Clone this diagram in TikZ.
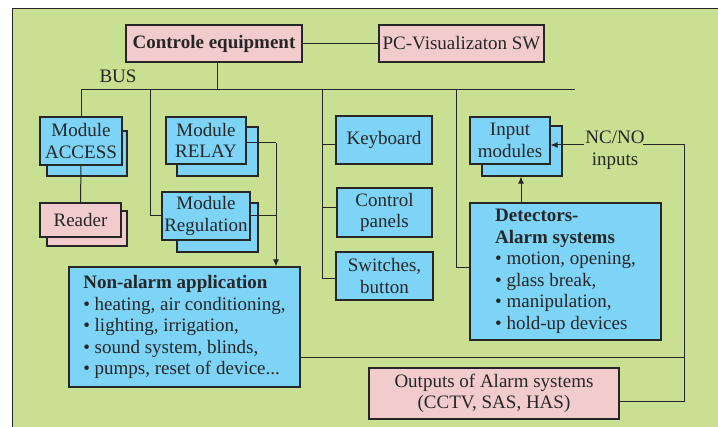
\documentclass[tikz,border=0pt]{standalone}
\usepackage{fontspec}
\setmainfont{Liberation Serif}
\usetikzlibrary{arrows.meta}
\definecolor{bggreen}{RGB}{201,223,145}
\definecolor{boxblue}{RGB}{125,212,247}
\definecolor{boxpink}{RGB}{242,204,205}
\definecolor{ink}{RGB}{38,38,38}
\tikzset{
  base/.style={draw=ink, line width=1.1pt, inner sep=0pt, align=center,
    font=\fontsize{19}{21.5}\selectfont, text=ink},
  bluebox/.style={base, fill=boxblue},
  pinkbox/.style={base, fill=boxpink},
  sz/.style 2 args={minimum width=#1pt, minimum height=#2pt},
  plaintext/.style={inner sep=1pt, align=center, font=\fontsize{19}{21.5}\selectfont, text=ink},
  wire/.style={draw=ink, line width=1pt},
  arrowwire/.style={wire, -{Latex[length=7pt,width=6pt]}},
}
\begin{document}
\begin{tikzpicture}[x=1pt,y=-1pt]
\useasboundingbox (0,0) rectangle (718,427);
\fill[white] (0,0) rectangle (718,427);
\fill[bggreen] (12,9) rectangle (718,427);
\draw[ink, line width=1pt] (718,9) -- (12,9) -- (12,427);

% back cards of the stacked modules
\node[bluebox, sz={80}{45}] (accBack) at (87,153.5) {};
\node[pinkbox, sz={80}{35}] (readerBack) at (87,228.5) {};
\node[bluebox, sz={81}{49}] (relayBack) at (217.5,151.5) {};
\node[bluebox, sz={81}{49}] (regBack) at (217.5,227.5) {};
\node[bluebox, sz={80}{50}] (inpBack) at (522,151) {};

% head units
\node[pinkbox, sz={176}{37}] (ctrl) at (214,43.5) {\bfseries Controle equipment};
\node[pinkbox, sz={165}{37}] (pc) at (461.5,43.5) {PC-Visualizaton SW};
\node[plaintext] (bus) at (118,76) {BUS};

% modules on the bus
\node[bluebox, sz={82}{48}] (acc) at (81,141) {Module\\ACCESS};
\node[pinkbox, sz={81}{34}] (reader) at (80.5,220) {Reader};
\node[bluebox, sz={80}{47}] (relay) at (206,140.5) {Module\\RELAY};
\node[bluebox, sz={88}{48}] (reg) at (206,216) {Module\\Regulation};
\node[bluebox, sz={96}{48}] (kb) at (384,140) {Keyboard};
\node[bluebox, sz={95}{49}] (cp) at (384.5,212.5) {Control\\panels};
\node[bluebox, sz={97}{48}] (sw) at (384.5,276) {Switches,\\button};
\node[bluebox, sz={80}{47}] (inp) at (510,140.5) {Input\\modules};

\node[bluebox, sz={231}{120}, align=left] (nonalarm) at (184.5,327)
  {\bfseries Non-alarm application\\
   • heating, air conditioning,\\
   • lighting, irrigation,\\
   • sound system, blinds,\\
   • pumps, reset of device...};
\node[bluebox, sz={191}{137}, align=left] (det) at (565.5,271.5)
  {\bfseries Detectors-\\
   \bfseries Alarm systems\\
   • motion, opening,\\
   • glass break,\\
   • manipulation,\\
   • hold-up devices};
\node[pinkbox, sz={250}{51}] (out) at (494,393.5) {Outputs of Alarm systems\\(CCTV, SAS, HAS)};
\node[plaintext] (nc) at (615,150) {NC/NO\\inputs};

% bus and taps
\coordinate (busL) at (81,90);
\coordinate (busR) at (575,90);
\coordinate (busTap) at (217,90);
\coordinate (tapB) at (150,90);
\coordinate (tapC) at (322,90);
\coordinate (tapD) at (456,90);
\coordinate (relTurn) at (276,143);
\coordinate (upX) at (521,0);
\coordinate (rail) at (684,0);

\draw[wire] (ctrl) -- (pc);
\draw[wire] (busTap |- ctrl.south) -- (busTap);
\draw[wire] (busL) -- (busR);
\draw[wire] (busL) -- (acc.north);
\draw[wire] (acc.south) -- (reader.north);
\draw[wire] (tapB) |- (reg.west);

\draw[wire] ([yshift=-2.5pt]relay.east) -- (relTurn);
\draw[wire] (reg.east) -- (reg.east -| relTurn);
\draw[arrowwire] (relTurn) -- (relTurn |- nonalarm.north);

\coordinate (kbIn) at ([yshift=-5pt]kb.west);
\coordinate (cpIn) at ([yshift=4.5pt]cp.west);
\draw[wire] (tapC) |- ([yshift=-3pt]sw.west);
\draw[wire] (tapC |- kbIn) -- (kbIn);
\draw[wire] (tapC |- cpIn) -- (cpIn);

\draw[wire] (tapD) |- ([yshift=3.5pt]det.west);
\draw[arrowwire] (det.north -| upX) -- (upX |- inpBack.south);

\coordinate (ncIn) at ([yshift=5pt]nc.west);
\draw[arrowwire] (ncIn) -- (ncIn -| inp.east);
\coordinate (outIn) at ([yshift=-8.5pt]out.east);
\draw[wire] ([shift={(-3pt,5pt)}]nc.east) -| (rail |- outIn) -- (outIn);
\coordinate (naOut) at ([yshift=-31pt]nonalarm.east);
\draw[wire] (naOut) -- (rail |- naOut);
\end{tikzpicture}
\end{document}
